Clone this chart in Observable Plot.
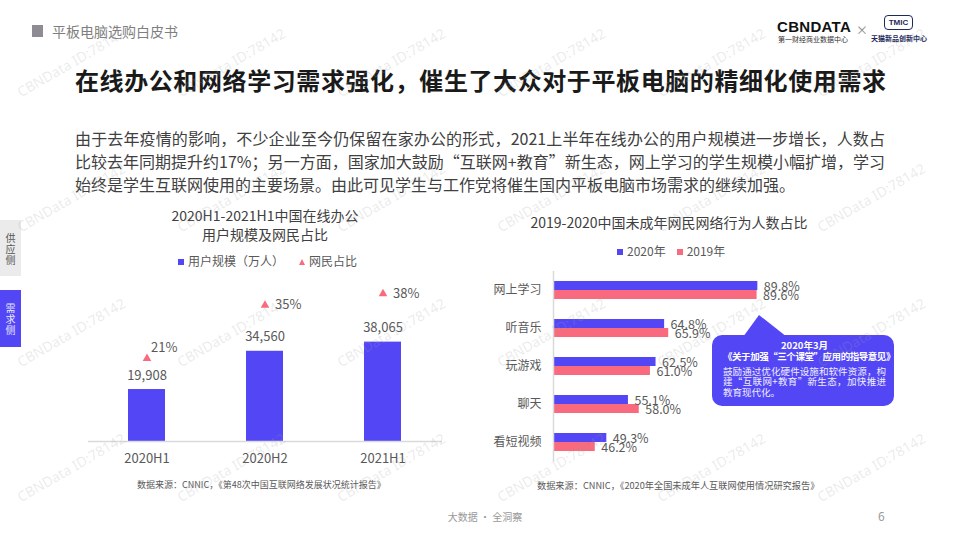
<!DOCTYPE html>
<html><head><meta charset="utf-8">
<script src="https://cdn.jsdelivr.net/npm/d3@7"></script>
<script src="https://cdn.jsdelivr.net/npm/@observablehq/plot@0.6"></script>
<style>
  html,body{margin:0;padding:0;background:#fff;}
  body{width:960px;height:540px;position:relative;overflow:hidden;font-family:"Noto Sans CJK SC","Noto Sans",sans-serif;}
  .abs{position:absolute;}
  .wm{position:absolute;font-family:"Noto Sans","Liberation Sans",sans-serif;font-size:14px;color:rgba(160,160,160,0.22);transform-origin:0 100%;transform:rotate(-30deg);white-space:nowrap;pointer-events:none;z-index:50;}
</style></head>
<body>
<script>
// ---------- data ----------
const periods = ["2020H1", "2020H2", "2021H1"];
const userScale = [19908, 34560, 38065];      // 用户规模（万人）
const netShare = [21, 35, 38];                 // 网民占比 %
const behaviors = ["网上学习", "听音乐", "玩游戏", "聊天", "看短视频"];
const years = ["2020年", "2019年"];
const share2020 = [89.8, 64.8, 62.5, 55.1, 49.3];
const share2019 = [89.6, 65.9, 61.0, 58.0, 46.2];

const BLUE = "#5347F5", PINK = "#F96A7E", GRAY = "#595959";
const FONT = '"Noto Sans CJK SC","Noto Sans",sans-serif';

function addDiv(html, css) {
  const d = document.createElement("div");
  d.className = "abs";
  d.innerHTML = html;
  Object.assign(d.style, css);
  document.body.appendChild(d);
  return d;
}

// ---------- header ----------
addDiv("", {left:"32px", top:"25px", width:"11px", height:"12px", background:"#8f8b95"});
addDiv("平板电脑选购白皮书", {left:"52px", top:"21px", fontSize:"14px", lineHeight:"20px", color:"#7f7f7f"});
addDiv("CBNDATA", {left:"777px", top:"18px", fontSize:"15px", fontWeight:"900", letterSpacing:"0.3px", lineHeight:"18px", color:"#111", fontFamily:'"Liberation Sans",sans-serif'});
addDiv("第一财经商业数据中心", {left:"778px", top:"35px", fontSize:"7px", lineHeight:"8px", color:"#333"});
addDiv("×", {left:"856px", top:"23px", fontSize:"12px", lineHeight:"14px", color:"#888"});
addDiv("TMIC", {left:"884px", top:"15px", width:"27px", height:"13px", border:"1.5px solid #1d2a5c", borderRadius:"4px", fontSize:"8px", fontWeight:"700", lineHeight:"13px", textAlign:"center", color:"#1d2a5c", fontFamily:'"Liberation Sans",sans-serif'});
addDiv("天猫新品创新中心", {left:"871px", top:"34px", fontSize:"7px", lineHeight:"8px", fontWeight:"700", color:"#1d2a5c"});

// ---------- title & paragraph ----------
addDiv("在线办公和网络学习需求强化，催生了大众对于平板电脑的精细化使用需求",
  {left:"75px", top:"64px", width:"811px", fontSize:"24px", lineHeight:"32px", fontWeight:"700", color:"#1a1a1a", textAlign:"justify", textAlignLast:"justify"});
const para = [
  "由于去年疫情的影响，不少企业至今仍保留在家办公的形式，2021上半年在线办公的用户规模进一步增长，人数占",
  "比较去年同期提升约17%；另一方面，国家加大鼓励“互联网+教育”新生态，网上学习的学生规模小幅扩增，学习",
  "始终是学生互联网使用的主要场景。由此可见学生与工作党将催生国内平板电脑市场需求的继续加强。"
];
para.forEach((t, i) => addDiv(t, {left:"75px", top:(127 + i*23) + "px", width:"810px", fontSize:"16px", lineHeight:"23px", color:"#404040", whiteSpace:"nowrap",
  textAlign:"justify", textAlignLast: i < 2 ? "justify" : "left"}));

// ---------- side tabs ----------
addDiv("供<br>应<br>侧", {left:"0px", top:"220px", width:"21px", height:"56px", background:"#ebebeb", color:"#555", fontSize:"10px", lineHeight:"11px", textAlign:"center", boxSizing:"border-box", paddingTop:"12px"});
addDiv("需<br>求<br>侧", {left:"0px", top:"290px", width:"21px", height:"57px", background:BLUE, color:"#e8e6ff", fontSize:"10px", lineHeight:"11px", textAlign:"center", boxSizing:"border-box", paddingTop:"12px"});

// ---------- left chart ----------
addDiv("2020H1-2021H1中国在线办公<br>用户规模及网民占比", {left:"115px", top:"206px", width:"300px", textAlign:"center", fontSize:"14px", lineHeight:"18.5px", color:"#404040"});
addDiv('<span style="display:inline-block;width:6px;height:6px;background:' + BLUE + ';margin-right:4px;vertical-align:1px"></span>用户规模（万人）', {left:"178px", top:"253px", fontSize:"12px", lineHeight:"16px", color:GRAY, whiteSpace:"nowrap"});
addDiv('<span style="display:inline-block;width:0;height:0;border-left:3.5px solid transparent;border-right:3.5px solid transparent;border-bottom:6px solid ' + PINK + ';margin-right:4px;vertical-align:1px"></span>网民占比', {left:"299px", top:"253px", fontSize:"12px", lineHeight:"16px", color:GRAY, whiteSpace:"nowrap"});

const officeData = periods.map((p, i) => ({period: p, users: userScale[i], share: netShare[i]}));
const bandX = {domain: periods, paddingInner: 0.686, paddingOuter: 0.343};
const baseStyle = {fontFamily: FONT, fontSize: "12px", color: GRAY, background: "transparent", overflow: "visible"};

const barPlot = Plot.plot({
  width: 380, height: 200, marginLeft: 13, marginRight: 13, marginTop: 0, marginBottom: 29,
  style: {...baseStyle, fontSize: "13px"},
  x: {...bandX, type: "band", tickSize: 0, tickPadding: 12, label: null},
  y: {domain: [0, 65500], axis: null},
  marks: [
    Plot.barY(officeData, {x: "period", y: "users", fill: BLUE}),
    Plot.ruleY([0], {stroke: "#d9d9d9", strokeWidth: 1.5}),
    Plot.text(officeData, {x: "period", y: "users", text: d => d3.format(",")(d.users), dy: -14, fontSize: 13, fill: GRAY})
  ]
});
const triPlot = Plot.plot({
  width: 380, height: 200, marginLeft: 13, marginRight: 13, marginTop: 0, marginBottom: 32,
  style: baseStyle,
  x: {...bandX, type: "band", axis: null},
  y: {domain: [0, 44.1], axis: null},
  marks: [
    Plot.dot(officeData, {x: "period", y: "share", symbol: "triangle", r: 3.2, fill: PINK, stroke: "none"}),
    Plot.text(officeData.filter(d => d.period !== "2020H1"), {x: "period", y: "share", text: d => d.share + "%", dx: 10, textAnchor: "start", fontSize: 13, fill: GRAY}),
    Plot.text(officeData.filter(d => d.period === "2020H1"), {x: "period", y: "share", text: d => d.share + "%", dx: 4, dy: -11, textAnchor: "start", fontSize: 13, fill: GRAY})
  ]
});
const leftWrap = addDiv("", {left:"75px", top:"270px", width:"380px", height:"200px"});
[barPlot, triPlot].forEach(p => { p.style.position = "absolute"; p.style.left = "0"; p.style.top = "0"; leftWrap.appendChild(p); });

addDiv("数据来源：CNNIC，《第48次中国互联网络发展状况统计报告》", {left:"137px", top:"479px", fontSize:"9px", lineHeight:"12px", color:GRAY, whiteSpace:"nowrap"});

// ---------- right chart ----------
addDiv("2019-2020中国未成年网民网络行为人数占比", {left:"519px", top:"212px", width:"300px", textAlign:"center", fontSize:"14px", lineHeight:"20px", color:"#404040", whiteSpace:"nowrap"});
addDiv('<span style="display:inline-block;width:6px;height:6px;background:' + BLUE + ';margin-right:4px;vertical-align:1px"></span>2020年<span style="display:inline-block;width:6px;height:6px;background:' + PINK + ';margin:0 4px 0 11px;vertical-align:1px"></span>2019年',
  {left:"617px", top:"243px", fontSize:"12px", lineHeight:"16px", color:GRAY, whiteSpace:"nowrap"});

const behaviorRows = behaviors.flatMap((b, i) => [
  {behavior: b, year: years[0], value: share2020[i]},
  {behavior: b, year: years[1], value: share2019[i]}
]);
const xAxisDomain = [35, 125];
const rightPlot = Plot.plot({
  width: 430, height: 205, marginLeft: 83, marginRight: 11.4, marginTop: 6, marginBottom: 8.3,
  style: baseStyle,
  facet: {data: behaviorRows, y: "behavior"},
  fy: {domain: behaviors, paddingInner: 0, paddingOuter: 0, axis: "left", tickSize: 0, tickPadding: 12, label: null},
  x: {domain: xAxisDomain, clamp: true, axis: null},
  y: {domain: years, paddingInner: 0.03, paddingOuter: 0.956, axis: null},
  color: {domain: years, range: [BLUE, PINK]},
  marks: [
    Plot.barX(behaviorRows, {y: "year", x: "value", fill: "year"}),
    Plot.ruleX([xAxisDomain[0]], {stroke: "#d9d9d9", strokeWidth: 1.5}),
    Plot.text(behaviorRows, {y: "year", x: "value", text: d => d.value.toFixed(1) + "%", dx: 6, dy: 0.5, textAnchor: "start", fontSize: 12.5, fill: GRAY})
  ]
});
const rightWrap = addDiv("", {left:"470px", top:"265px", width:"430px", height:"205px"});
rightWrap.appendChild(rightPlot);

addDiv("数据来源：CNNIC，《2020年全国未成年人互联网使用情况研究报告》", {left:"537px", top:"479px", fontSize:"9.2px", lineHeight:"12px", color:GRAY, whiteSpace:"nowrap"});

// ---------- callout ----------
addDiv("", {left:"743px", top:"315px", width:"44px", height:"22px", background:BLUE, clipPath:"polygon(16px 0, 0 100%, 100% 100%)"});
addDiv('<div style="text-align:center;font-weight:700;color:#fff;white-space:nowrap">2020年3月<br><span style="letter-spacing:-0.45px">《关于加强“三个课堂”应用的指导意见》</span></div>' +
       '<div style="margin-top:4px;color:#f0eeff;text-align:justify">鼓励通过优化硬件设施和软件资源，构建“互联网+教育”新生态，加快推进教育现代化。</div>',
  {left:"712px", top:"335px", width:"182px", height:"71px", background:BLUE, borderRadius:"10px", boxSizing:"border-box", padding:"5px 8px 0 11px", fontSize:"9.5px", lineHeight:"10.8px"});

// ---------- footer ----------
addDiv("大数据 · 全洞察", {left:"400px", top:"510px", width:"170px", textAlign:"center", fontSize:"10px", lineHeight:"14px", color:"#999"});
addDiv("6", {left:"878px", top:"508px", fontSize:"12px", lineHeight:"16px", color:"#999"});

// ---------- watermarks ----------
[100, 235, 370, 505].forEach(y => [23, 183, 343, 503, 663, 823].forEach(x => {
  const w = document.createElement("div");
  w.className = "wm";
  w.textContent = "CBNData ID:78142";
  w.style.left = x + "px"; w.style.top = (y - 18) + "px";
  document.body.appendChild(w);
}));
</script>
</body></html>
